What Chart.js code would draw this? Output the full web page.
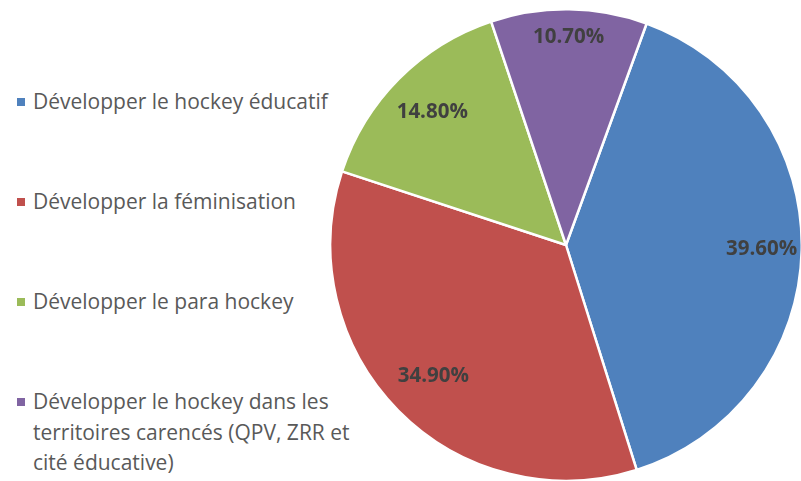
<!DOCTYPE html>
<html lang="fr">
<head>
  <meta charset="UTF-8" />
  <title>Répartition des projets</title>
  <script src="https://cdn.jsdelivr.net/npm/chart.js"></script>
  <style>
    html, body { margin: 0; padding: 0; background: #fff; }
    body { width: 801px; height: 481px; overflow: hidden; position: relative; font-family: "Open Sans", "Liberation Sans", sans-serif; }
    #legend { position: absolute; left: 17px; top: 0; width: 340px; color: #595959; font-size: 21px; }
    .item { position: absolute; left: 0; width: 340px; line-height: 30.5px; }
    .item i { position: absolute; left: 0; top: 12px; width: 8px; height: 8px; }
    .item span { display: block; margin-left: 16px; width: 330px; }
    #wrap { position: absolute; left: 329px; top: 8px; width: 474px; height: 474px; }
  </style>
</head>
<body>
  <div id="legend"></div>
  <div id="wrap"><canvas id="pie"></canvas></div>

  <script>
    // data
    const categories = [
      'Développer le hockey éducatif',
      'Développer la féminisation',
      'Développer le para hockey',
      'Développer le hockey dans les territoires carencés (QPV, ZRR et cité éducative)'
    ];
    const shares = [39.6, 34.9, 14.8, 10.7];
    const colors = ['#4F81BD', '#C0504D', '#9BBB59', '#8064A2'];

    // legend (html, wraps like the original)
    const legendTops = [86, 186, 286, 386];
    const legend = document.getElementById('legend');
    categories.forEach((c, i) => {
      const d = document.createElement('div');
      d.className = 'item';
      d.style.top = legendTops[i] + 'px';
      d.innerHTML = '<i style="background:' + colors[i] + '"></i><span></span>';
      d.querySelector('span').textContent = c;
      legend.appendChild(d);
    });

    // how far out each percentage sits (fraction of radius)
    const labelDist = [0.83, 0.79, 0.80, 0.88];

    const pctLabels = {
      id: 'pctLabels',
      afterDatasetsDraw(chart) {
        const ctx = chart.ctx;
        const meta = chart.getDatasetMeta(0);
        ctx.save();
        ctx.font = 'bold 20.5px "Open Sans", "Liberation Sans", sans-serif';
        ctx.fillStyle = '#404040';
        ctx.textAlign = 'center';
        ctx.textBaseline = 'middle';
        meta.data.forEach((arc, i) => {
          const p = arc.getProps(['x', 'y', 'startAngle', 'endAngle', 'outerRadius'], true);
          const a = (p.startAngle + p.endAngle) / 2;
          const r = p.outerRadius * labelDist[i];
          ctx.fillText(shares[i].toFixed(2) + '%', p.x + Math.cos(a) * r, p.y + Math.sin(a) * r);
        });
        ctx.restore();
      }
    };

    new Chart(document.getElementById('pie'), {
      type: 'pie',
      data: {
        labels: categories,
        datasets: [{
          data: shares,
          backgroundColor: colors,
          borderColor: '#ffffff',
          borderWidth: 2.5
        }]
      },
      options: {
        responsive: true,
        maintainAspectRatio: false,
        animation: false,
        rotation: 20,
        layout: { padding: 0 },
        plugins: {
          legend: { display: false },
          tooltip: { enabled: false }
        }
      },
      plugins: [pctLabels]
    });
  </script>
</body>
</html>
